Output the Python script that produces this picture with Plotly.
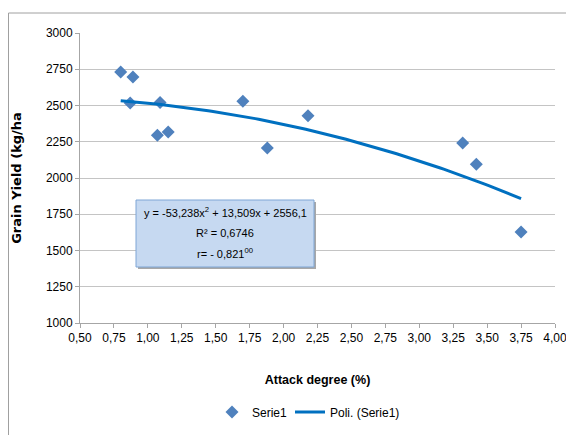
import numpy as np
import plotly.graph_objects as go

# Data
attack_degree = [0.80, 0.87, 0.89, 1.07, 1.09, 1.15, 1.70, 1.88, 2.18, 3.32, 3.42, 3.75]
grain_yield = [2731, 2517, 2697, 2294, 2520, 2317, 2529, 2207, 2430, 2241, 2094, 1628]
trend_coefs = [-53.238, 13.509, 2556.1]  # y = a x^2 + b x + c (shown on chart)
x_ticks = [0.50, 0.75, 1.00, 1.25, 1.50, 1.75, 2.00, 2.25, 2.50, 2.75, 3.00, 3.25, 3.50, 3.75, 4.00]
y_ticks = [1000, 1250, 1500, 1750, 2000, 2250, 2500, 2750, 3000]
eq_lines = ["y = -53,238x<sup>2</sup> + 13,509x + 2556,1", "R² = 0,6746", "r= - 0,821<sup>00</sup>"]

FONT = "Liberation Sans, Arial"

xt = np.linspace(min(attack_degree), max(attack_degree), 120)
yt = np.polyval(trend_coefs, xt)

# page offset (browser body margin)
OFF = 8
W, H = 574 - OFF, 435 - OFF
L, T = 80 - OFF, 33 - OFF
R = W - (555 - OFF)
B = H - (323 - OFF)
pw, ph = W - L - R, H - T - B

def px(x):  # page x -> paper x
    return (x - OFF - L) / pw

def py(y):  # page y -> paper y
    return (H - B - (y - OFF)) / ph

fig = go.Figure()
fig.add_trace(go.Scatter(
    x=attack_degree, y=grain_yield, mode="markers", name="Serie1",
    marker=dict(symbol="diamond", size=10, color="#4f81bd"), legend="legend",
))
fig.add_trace(go.Scatter(
    x=xt, y=yt, mode="lines", name="Poli. (Serie1)",
    line=dict(color="#0070c0", width=3), legend="legend2",
))

leg_common = dict(orientation="h", yanchor="middle", xanchor="left",
                  font=dict(family=FONT, size=12, color="#000000"),
                  bgcolor="rgba(0,0,0,0)", borderwidth=0)

fig.update_layout(
    width=W, height=H,
    margin=dict(l=L, r=R, t=T, b=B, autoexpand=False),
    paper_bgcolor="white", plot_bgcolor="white",
    separators=",.",
    font=dict(family=FONT, size=12, color="#000000"),
    showlegend=True,
    legend=dict(x=px(212), y=py(412), **leg_common),
    legend2=dict(x=px(290), y=py(412), **leg_common),
    xaxis=dict(
        range=[0.5, 4.0], tickvals=x_ticks, tickformat=".2f",
        showgrid=False, zeroline=False, automargin=False,
        showline=True, linecolor="#a6a6a6", linewidth=1,
        ticks="outside", ticklen=4, tickcolor="#a6a6a6",
        tickfont=dict(family=FONT, size=12, color="#000000"),
        title=dict(text="<b>Attack degree (%)</b>", standoff=30,
                   font=dict(family=FONT, size=12.5, color="#000000")),
    ),
    yaxis=dict(
        range=[1000, 3000], tickvals=y_ticks, tickformat=".0f",
        showgrid=True, gridcolor="#c4c4c4", gridwidth=1, zeroline=False, automargin=False,
        showline=True, linecolor="#a6a6a6", linewidth=1,
        ticks="outside", ticklen=4, tickcolor="#a6a6a6",
        tickfont=dict(family=FONT, size=12, color="#000000"),
        title=dict(text="<b>Grain Yield (kg/ha</b>", standoff=21,
                   font=dict(family="DejaVu Sans, Verdana", size=13, color="#000000")),
    ),
)

# chart border (top and left visible)
fig.add_shape(type="line", xref="paper", yref="paper", x0=px(8.5), x1=px(590), y0=py(13), y1=py(13),
              line=dict(color="#a0a0a0", width=1))
fig.add_shape(type="line", xref="paper", yref="paper", x0=px(8.5), x1=px(8.5), y0=py(13), y1=py(450),
              line=dict(color="#a0a0a0", width=1))

# equation box with shadow
bx0, bx1, by0, by1 = 136, 314, 200, 267
fig.add_shape(type="rect", xref="paper", yref="paper", x0=px(bx0 + 2), x1=px(bx1 + 2),
              y0=py(by0 + 2), y1=py(by1 + 2), fillcolor="#a8a8a8", line=dict(width=0), layer="above")
fig.add_shape(type="rect", xref="paper", yref="paper", x0=px(bx0), x1=px(bx1),
              y0=py(by0), y1=py(by1), fillcolor="#c6d9f1", line=dict(color="#7fa6d6", width=1),
              layer="above")
for txt, ly in zip(eq_lines, [212, 233, 253]):
    fig.add_annotation(
        xref="paper", yref="paper", x=px((bx0 + bx1) / 2), y=py(ly),
        xanchor="center", yanchor="middle", showarrow=False, text=txt,
        font=dict(family=FONT, size=11, color="#000000"),
    )

fig.write_html("out.html")
